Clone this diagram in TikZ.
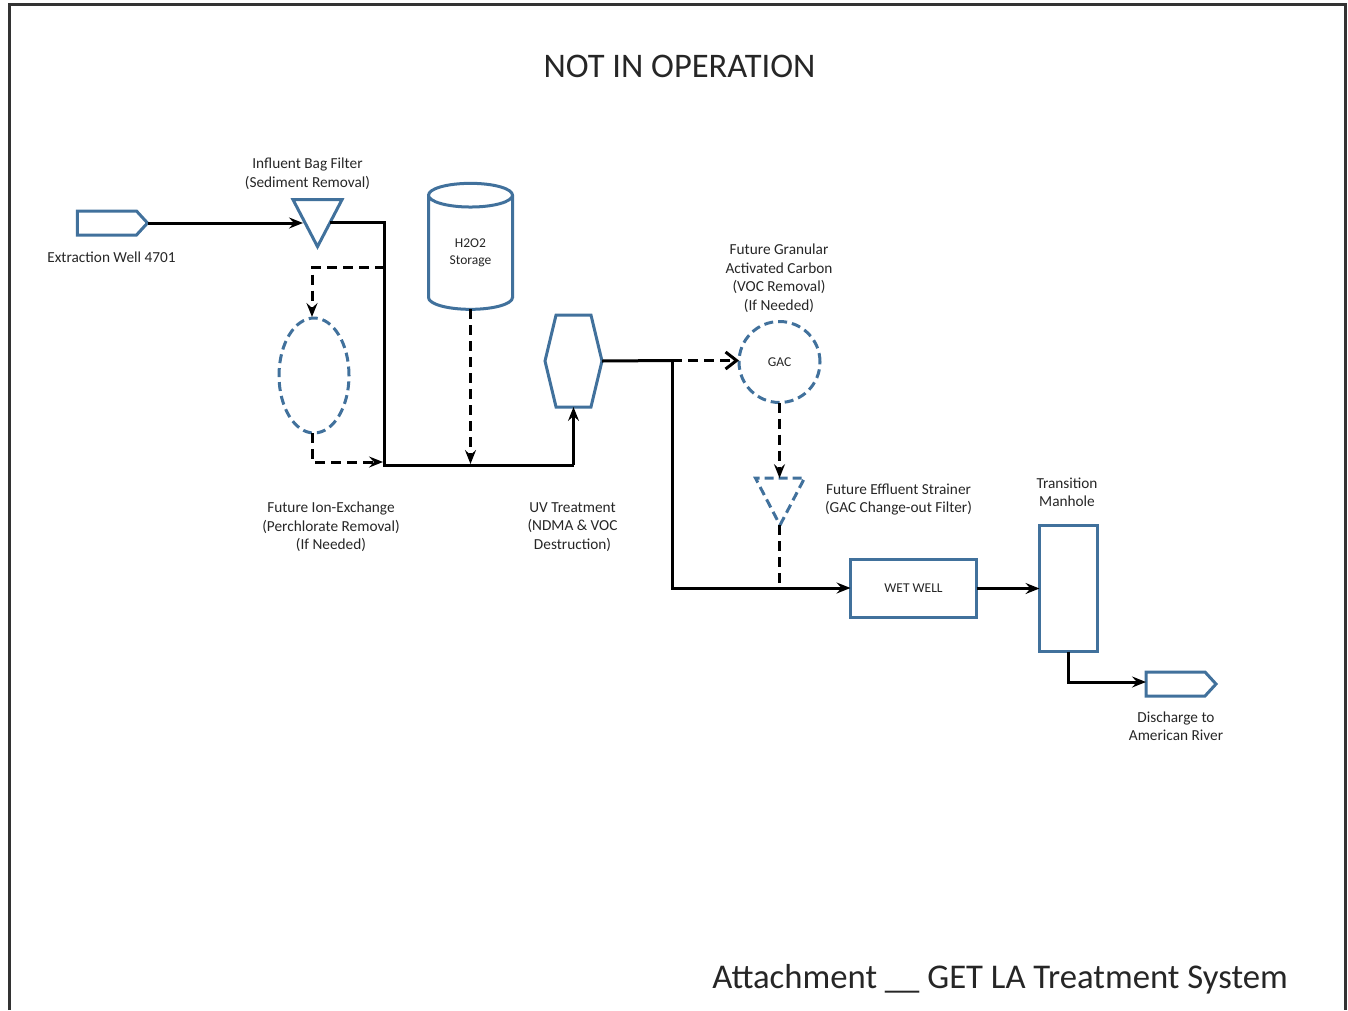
\documentclass[tikz,border=0pt]{standalone}
\usepackage{xcolor}
\usepackage{fontspec}
\setmainfont{Carlito}
\usetikzlibrary{shapes.geometric,shapes.symbols,arrows.meta}
\definecolor{unitblue}{HTML}{41719C}
\definecolor{labelgray}{HTML}{262626}
\tikzstyle{unit} = [draw=unitblue, line width=3pt, fill=white, inner sep=0pt, outer sep=0pt, text=labelgray, font=\fontsize{13.5}{17}\selectfont, align=center]
\tikzstyle{future} = [unit, dash pattern=on 9pt off 5pt]
\tikzstyle{tagbox} = [unit, signal, signal to=east, signal pointer angle=95, minimum width=70pt, minimum height=24pt]
\tikzstyle{sieve} = [isosceles triangle, shape border rotate=-90, isosceles triangle apex angle=56, isosceles triangle stretches, minimum width=49pt, minimum height=47pt]
\tikzstyle{lbl} = [inner sep=0pt, text=labelgray, font=\fontsize{15.3}{18.5}\selectfont, align=center]
\tikzstyle{pipe} = [line width=3pt, draw=black, -{Stealth[length=14pt,width=11pt,inset=5pt]}]
\tikzstyle{line} = [line width=3pt, draw=black]
\tikzstyle{branch} = [pipe, dash pattern=on 10pt off 6pt]
\tikzstyle{dline} = [line, dash pattern=on 10pt off 6pt]
\begin{document}
\begin{tikzpicture}[x=1pt,y=-1pt]
	\useasboundingbox (0,0) rectangle (1348,1010);
	\draw[line width=3pt, draw=black!80] (9,1010) -- (9,4) -- (1345,4) -- (1345,1010);
	% units
	\node[tagbox] (well) at (107,223) {};
	\node[unit, sieve] (filter) at (317.5,214.5) {};
	\node[future, ellipse, minimum width=70pt, minimum height=115pt] (ionex) at (314,375.5) {};
	\node[unit, cylinder, shape border rotate=90, aspect=0.57, minimum width=84pt, minimum height=126pt] (storage) at (470.5,253) {H2O2\\Storage};
	\node[unit, signal, signal to=east and west, signal pointer angle=153, minimum width=57pt, minimum height=92pt] (uv) at (573.5,361) {};
	\node[future, circle, minimum size=81pt] (gac) at (779.5,362) {GAC};
	\node[future, sieve] (strainer) at (780,493) {};
	\node[unit, minimum width=126pt, minimum height=58pt] (wetwell) at (913.5,588.5) {WET WELL};
	\node[unit, minimum width=58pt, minimum height=126pt] (manhole) at (1068.5,588.5) {};
	\node[tagbox] (discharge) at (1175.5,684) {};
	% labels
	\node[lbl] (titlelbl) at (679.5,66.5) {\fontsize{34.5}{40}\selectfont NOT IN OPERATION};
	\node[lbl] (welllbl) at (111.5,257) {Extraction Well 4701};
	\node[lbl] (filterlbl) at (307.5,173.5) {Influent Bag Filter\\(Sediment Removal)};
	\node[lbl] (ionexlbl) at (331,527) {Future Ion-Exchange\\(Perchlorate Removal)\\(If Needed)};
	\node[lbl] (uvlbl) at (572.5,527) {UV Treatment\\(NDMA \& VOC\\Destruction)};
	\node[lbl] (gaclbl) at (779,278) {Future Granular\\Activated Carbon\\(VOC Removal)\\(If Needed)};
	\node[lbl] (strainerlbl) at (898.5,499.5) {Future Effluent Strainer\\(GAC Change-out Filter)};
	\node[lbl] (manholelbl) at (1067,492.5) {Transition\\Manhole};
	\node[lbl] (dischargelbl) at (1176,726) {Discharge to\\American River};
	\node[lbl] (attachlbl) at (1000,979) {\fontsize{34.7}{40}\selectfont Attachment \_\_ GET LA Treatment System};
	% junctions
	\coordinate (filterin) at (303,222);
	\coordinate (filterout) at (330,222);
	\coordinate (corner) at (384.5,222);
	\coordinate (tee) at (384.5,267);
	\coordinate (ionexin) at (312,317);
	\coordinate (ionexout) at (312,433);
	\coordinate (header) at (384.5,465);
	\coordinate (ionexend) at (383,462);
	\coordinate (storageout) at (470.5,309);
	\coordinate (storageend) at (470.5,464);
	\coordinate (uvin) at (573.5,465);
	\coordinate (split) at (672,360.5);
	\coordinate (bypass) at (672,588);
	\coordinate (straineroutfall) at (779.5,588);
	\coordinate (dischargein) at (1146,682);
	% pipes
	\draw[pipe] (well.east) -- (well.east -| filterin);
	\draw[line] (filterout) -- (corner) -- (header) -- (uvin);
	\draw[pipe] (uvin) -- (uv.south);
	\draw[branch] (tee) -| (ionexin);
	\draw[branch] (ionexout) |- (ionexend);
	\draw[branch] (storageout) -- (storageend);
	\draw[line] (uv.east) -- (split);
	\draw[branch, -{Straight Barb[length=11pt,width=17pt]}] (split) -- (split -| gac.west);
	\draw[pipe] (split) -- (bypass) -- (bypass -| wetwell.west);
	\draw[branch] (gac.south) -- (gac.south |- strainer.north);
	\draw[dline] (gac.south |- strainer.south) -- (straineroutfall);
	\draw[pipe] (wetwell.east) -- (wetwell.east -| manhole.west);
	\draw[pipe] (manhole.south) |- (dischargein);
\end{tikzpicture}
\end{document}
